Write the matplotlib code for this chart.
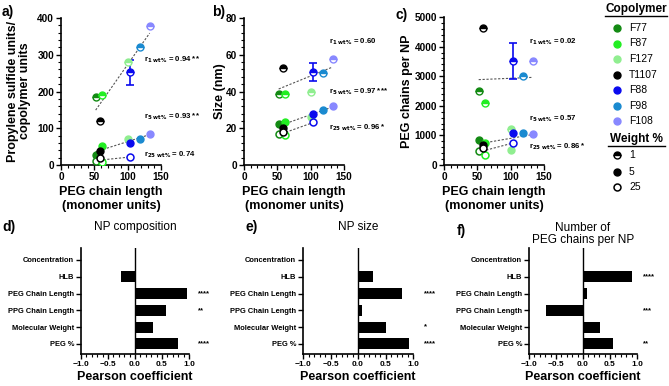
import matplotlib
matplotlib.use('Agg')
import matplotlib.pyplot as plt
from matplotlib.lines import Line2D
from matplotlib.ticker import MultipleLocator
import numpy as np

plt.rcParams['font.family'] = ['Liberation Sans', 'DejaVu Sans']

# copolymers and their PEG block length (monomer units)
copolymers = ['F77', 'F87', 'F127', 'T1107', 'F88', 'F98', 'F108']
colors = ['#138a13', '#22ee22', '#90ee90', '#000000', '#0a0aee', '#1a8ad0', '#8888ff']
peg_len = [52, 61, 100, 59, 104, 118, 133]
nan = np.nan

# a) propylene sulfide units per copolymer unit
ps_1 = [186, 190, 280, 120, 252, 321, 377]
ps_5 = [27, 53, 71, 38, 61, 71, 83]
ps_25 = [12, 9, nan, 18, 22, nan, nan]
ps_1_err = [0, 0, 0, 0, 34, 0, 0]

# b) size (nm)
size_1 = [38.6, 38.6, 39.8, 52.9, 50.5, 50.1, 57.9]
size_5 = [22.5, 23.2, 26.0, 20.4, 28.0, 30.2, 32.0]
size_25 = [17.0, 16.2, nan, 18.0, 23.3, nan, nan]
size_1_err = [0, 0, 0, 0, 5, 0, 0]

# c) PEG chains per NP
n_1 = [2495, 2089, 1220, 4629, 3500, 2992, 3511]
n_5 = [840, 756, 510, 677, 1095, 1095, 1050]
n_25 = [485, 345, nan, 560, 760, nan, nan]
n_1_err = [0, 0, 0, 0, 605, 0, 0]

r_labels = {
    'a': ['0.94 **', '0.93 **', '0.74'],
    'b': ['0.60', '0.97 ***', '0.96 *'],
    'c': ['0.02', '0.57', '0.86 *'],
}

# d-f) Pearson coefficients
factors = ['Concentration', 'HLB', 'PEG Chain Length', 'PPG Chain Length',
           'Molecular Weight', 'PEG %']
pearson_comp = [0.0, -0.26, 0.96, 0.57, 0.335, 0.80]
pearson_size = [0.0, 0.27, 0.80, 0.067, 0.50, 0.92]
pearson_npeg = [0.0, 0.90, 0.08, -0.69, 0.31, 0.55]
stars_comp = ['', '', '****', '**', '', '****']
stars_size = ['', '', '****', '', '*', '****']
stars_npeg = ['', '****', '', '***', '', '**']

W, H = 669, 386
fig = plt.figure(figsize=(W / 100, H / 100), dpi=100)


def px_axes(l, t, r, b):
    return fig.add_axes([l / W, 1 - b / H, (r - l) / W, (b - t) / H])


def ftext(x, y, s, **kw):
    fig.text(x / W, 1 - y / H, s, **kw)


def style_axes(ax):
    for s in ['top', 'right']:
        ax.spines[s].set_visible(False)
    for s in ['left', 'bottom']:
        ax.spines[s].set_linewidth(1.2)
    ax.tick_params(width=1.0, length=3.5, pad=1.5)
    ax.tick_params(which='minor', width=0.8, length=2)


def scatter_panel(ax, y1, y5, y25, err1, ylim, ymaj, ymin, rlab, rpos):
    x = np.array(peg_len, dtype=float)
    for ys in (y1, y5, y25):
        ys = np.array(ys, dtype=float)
        ok = ~np.isnan(ys)
        k, b0 = np.polyfit(x[ok], ys[ok], 1)
        xx = np.array([x[ok].min(), x[ok].max()])
        ax.plot(xx, k * xx + b0, ls=(0, (2, 1.5)), color='#555555', lw=0.8, zorder=1)
    for i, c in enumerate(colors):
        if err1[i] > 0:
            ax.errorbar(x[i], y1[i], yerr=err1[i], color=c, capsize=3, lw=1.2,
                        capthick=1.2, zorder=2)
        ax.plot(x[i], y1[i], 'o', ms=5, color=c, mfc=c, mfcalt='white',
                fillstyle='top', mew=1.0, zorder=3)
        ax.plot(x[i], y5[i], 'o', ms=5, color=c, zorder=3)
        ax.plot(x[i], y25[i], 'o', ms=5, mfc='white', mec=c, mew=1.1, zorder=3)
    ax.set_xlim(0, 150)
    ax.set_ylim(*ylim)
    ax.xaxis.set_major_locator(MultipleLocator(50))
    ax.xaxis.set_minor_locator(MultipleLocator(10))
    ax.yaxis.set_major_locator(MultipleLocator(ymaj))
    ax.yaxis.set_minor_locator(MultipleLocator(ymin))
    style_axes(ax)
    for lab in ax.get_xticklabels() + ax.get_yticklabels():
        lab.set_fontweight('bold')
        lab.set_fontsize(7.2)
    for wt, lab, (px, py) in zip(['1', '5', '25'], rlab, rpos):
        ftext(px, py, r'r$_{\mathbf{%s\ wt\%%}}$ = %s' % (wt, lab),
              fontsize=5.6, fontweight='bold', va='center', ha='left')


ax_a = px_axes(61, 18, 161, 165)
scatter_panel(ax_a, ps_1, ps_5, ps_25, ps_1_err, (0, 400), 100, 20, r_labels['a'],
              [(144, 60), (144, 117), (144, 155)])
ax_b = px_axes(244, 18, 344, 165)
scatter_panel(ax_b, size_1, size_5, size_25, size_1_err, (0, 80), 20, 4, r_labels['b'],
              [(329, 42), (329, 92), (329, 128)])
ax_c = px_axes(444, 17, 544, 165)
scatter_panel(ax_c, n_1, n_5, n_25, n_1_err, (0, 5000), 1000, 200, r_labels['c'],
              [(529, 42), (529, 119), (529, 147)])

for cx in (111, 294, 494):
    ftext(cx, 199, 'PEG chain length\n(monomer units)', fontsize=9, fontweight='bold',
          ha='center', va='center', linespacing=1.15)
ftext(19, 91, 'Propylene sulfide units/\ncopolymer units', fontsize=9, fontweight='bold',
      rotation=90, ha='center', va='center', linespacing=1.1)
ftext(220, 91, 'Size (nm)', fontsize=9, fontweight='bold', rotation=90,
      ha='center', va='center')
ftext(407, 91, 'PEG chains per NP', fontsize=9, fontweight='bold', rotation=90,
      ha='center', va='center')

# legend
ftext(636, 9, 'Copolymer', fontsize=8.5, fontweight='bold', ha='center', va='center')
fig.add_artist(Line2D([605 / W, 667 / W], [1 - 16 / H, 1 - 16 / H], color='black',
                      lw=1.0, transform=fig.transFigure))
for i, (name, c) in enumerate(zip(copolymers, colors)):
    yy = 28 + i * 15.5
    fig.add_artist(Line2D([617 / W], [1 - yy / H], marker='o', ms=5, color=c,
                          transform=fig.transFigure))
    ftext(629, yy, name, fontsize=7.5, va='center', ha='left')
ftext(636, 139, 'Weight %', fontsize=8.5, fontweight='bold', ha='center', va='center')
fig.add_artist(Line2D([608 / W, 665 / W], [1 - 146 / H, 1 - 146 / H], color='black',
                      lw=1.0, transform=fig.transFigure))
for yy, lab, kw in [(155, '1', dict(fillstyle='top', mfcalt='white', mfc='black')),
                    (172, '5', dict()),
                    (187, '25', dict(mfc='white', mew=1.1))]:
    fig.add_artist(Line2D([617 / W], [1 - yy / H], marker='o', ms=5, color='black',
                          transform=fig.transFigure, **kw))
    ftext(629, yy, lab, fontsize=7.5, va='center', ha='left')


def bar_panel(ax, vals, stars, star_x):
    pos = np.arange(len(factors))
    ax.barh(pos, vals, height=0.65, color='black')
    ax.axvline(0, color='black', lw=1.0)
    ax.set_ylim(5.6, -0.71)
    ax.set_xlim(-1.0, 1.0)
    ax.set_yticks(pos)
    ax.set_yticklabels(factors, fontsize=5.4, fontweight='bold')
    ax.xaxis.set_major_locator(MultipleLocator(0.5))
    ax.xaxis.set_minor_locator(MultipleLocator(0.1))
    style_axes(ax)
    for lab in ax.get_xticklabels():
        lab.set_fontweight('bold')
        lab.set_fontsize(6)
    for p, s in zip(pos, stars):
        if s:
            ax.text(star_x, p, s, fontsize=5.5, fontweight='bold', ha='left',
                    va='center', clip_on=False)
    ax.set_xlabel('Pearson coefficient', fontsize=9, fontweight='bold', labelpad=2)


ax_d = px_axes(81, 248, 189, 354)
bar_panel(ax_d, pearson_comp, stars_comp, 1.17)
ax_e = px_axes(303, 248, 413, 354)
bar_panel(ax_e, pearson_size, stars_size, 1.2)
ax_f = px_axes(529, 248, 637, 354)
bar_panel(ax_f, pearson_npeg, stars_npeg, 1.12)

ftext(135, 227, 'NP composition', fontsize=8.5, ha='center', va='center')
ftext(358, 227, 'NP size', fontsize=8.5, ha='center', va='center')
ftext(583, 234, 'Number of\nPEG chains per NP', fontsize=8.5, ha='center', va='center',
      linespacing=1.05)

for lab, x, y in [('a)', 2, 12), ('b)', 212, 12), ('c)', 395, 15),
                  ('d)', 2, 227), ('e)', 245, 227), ('f)', 457, 231)]:
    ftext(x, y, lab, fontsize=10, fontweight='bold', ha='left', va='center')

fig.savefig('out.png', dpi=100)
